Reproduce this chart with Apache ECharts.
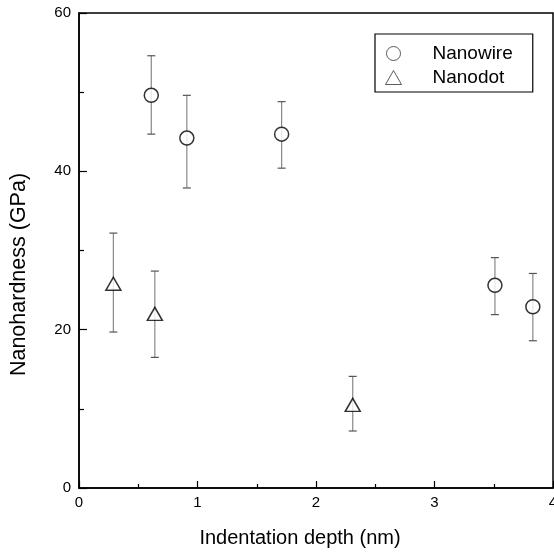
<!DOCTYPE html>
<html>
<head>
<meta charset="utf-8">
<script src="https://cdn.jsdelivr.net/npm/echarts@6/dist/echarts.min.js"></script>
<style>
  html, body { margin: 0; padding: 0; background: #fff; }
  #chart { width: 554px; height: 555px; }
</style>
</head>
<body>
<div id="chart"></div>
<script>
// values
const wireX    = [0.61, 0.91, 1.71, 3.51, 3.83];
const wireY    = [49.6, 44.2, 44.7, 25.6, 22.9];
const wireLow  = [44.7, 37.9, 40.4, 21.9, 18.6];
const wireHigh = [54.6, 49.6, 48.8, 29.1, 27.1];

const dotX    = [0.29, 0.64, 2.31];
const dotY    = [25.8, 22.0, 10.5];
const dotLow  = [19.7, 16.5, 7.2];
const dotHigh = [32.2, 27.4, 14.1];

const font = 'Liberation Sans, Arial, sans-serif';

const toPoints = (xs, ys) => xs.map((x, i) => [x, ys[i]]);
const toBars = (xs, lo, hi) => xs.map((x, i) => [x, lo[i], hi[i]]);

const errorBar = (params, api) => {
  let x = api.value(0);
  let lo = api.coord([x, api.value(1)]);
  let hi = api.coord([x, api.value(2)]);
  let cap = 4;
  let style = {stroke: '#555', lineWidth: 1.2};
  return {
    type: 'group',
    children: [
      {type: 'line', shape: {x1: lo[0], y1: lo[1], x2: hi[0], y2: hi[1]}, style: {stroke: '#888', lineWidth: 1.2}},
      {type: 'line', shape: {x1: lo[0] - cap, y1: lo[1], x2: lo[0] + cap, y2: lo[1]}, style: style},
      {type: 'line', shape: {x1: hi[0] - cap, y1: hi[1], x2: hi[0] + cap, y2: hi[1]}, style: style}
    ]
  };
};

let myChart = echarts.init(document.getElementById('chart'));
let option = {
  backgroundColor: '#fff',
  animation: false,
  grid: {
    left: 79, top: 13, right: 1, bottom: 67,
    outerBoundsMode: 'none', containLabel: false,
    show: true, borderColor: '#000', borderWidth: 1.5
  },
  legend: {
    orient: 'vertical',
    left: 375, top: 34,
    padding: [10, 20, 5, 10],
    borderColor: '#000', borderWidth: 1.2,
    itemWidth: 16, itemHeight: 14, itemGap: 5,
    itemStyle: {color: '#fff', borderColor: '#333', borderWidth: 1},
    data: ['Nanowire', 'Nanodot'],
    textStyle: {fontFamily: font, fontSize: 19, color: '#000', padding: [0, 0, 0, 26]}
  },
  xAxis: {
    type: 'value', min: 0, max: 4, interval: 1,
    name: 'Indentation depth (nm)', nameLocation: 'middle', nameGap: 40,
    nameTextStyle: {fontFamily: font, fontSize: 20, color: '#000', padding: [0, 32, 0, 0]},
    axisLine: {lineStyle: {color: '#000', width: 1.5}},
    axisTick: {inside: true, length: 7, lineStyle: {color: '#000', width: 1.2}},
    minorTick: {show: true, splitNumber: 2, length: 4, lineStyle: {color: '#000', width: 1.2}},
    splitLine: {show: false},
    axisLabel: {fontFamily: font, fontSize: 15, color: '#000', margin: 7}
  },
  yAxis: {
    type: 'value', min: 0, max: 60, interval: 20,
    name: 'Nanohardness (GPa)', nameLocation: 'middle', nameGap: 49,
    nameTextStyle: {fontFamily: font, fontSize: 21.5, color: '#000', padding: [0, 48, 0, 0]},
    axisLine: {lineStyle: {color: '#000', width: 1.5}},
    axisTick: {inside: true, length: 8, lineStyle: {color: '#000', width: 1.2}},
    minorTick: {show: true, splitNumber: 2, length: 5, lineStyle: {color: '#000', width: 1.2}},
    splitLine: {show: false},
    axisLabel: {fontFamily: font, fontSize: 15, color: '#000', margin: 8}
  },
  series: [
    {
      type: 'custom', name: 'wireErr', renderItem: errorBar,
      data: toBars(wireX, wireLow, wireHigh), z: 1, silent: true
    },
    {
      type: 'custom', name: 'dotErr', renderItem: errorBar,
      data: toBars(dotX, dotLow, dotHigh), z: 1, silent: true
    },
    {
      type: 'scatter', name: 'Nanowire', symbol: 'circle', symbolSize: 14,
      itemStyle: {color: '#fff', borderColor: '#000', borderWidth: 1.5},
      data: toPoints(wireX, wireY), z: 3
    },
    {
      type: 'scatter', name: 'Nanodot', symbol: 'triangle', symbolSize: [15, 13],
      itemStyle: {color: '#fff', borderColor: '#000', borderWidth: 1.5},
      data: toPoints(dotX, dotY), z: 3
    }
  ]
};
myChart.setOption(option);
</script>
</body>
</html>
